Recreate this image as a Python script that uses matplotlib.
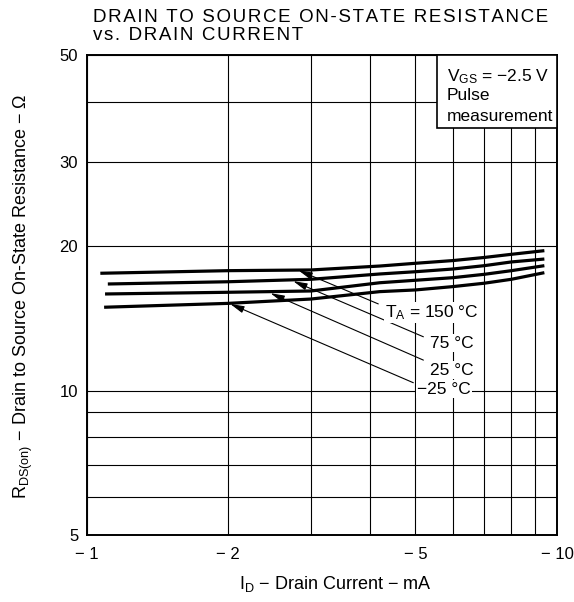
import numpy as np
import matplotlib
matplotlib.use("Agg")
import matplotlib.pyplot as plt
from matplotlib.ticker import FixedLocator, NullFormatter
from matplotlib.patches import Rectangle

plt.rcParams["font.family"] = ["Liberation Sans", "DejaVu Sans"]
plt.rcParams["mathtext.fontset"] = "custom"
plt.rcParams["mathtext.rm"] = "Liberation Sans"
plt.rcParams["mathtext.it"] = "Liberation Sans:italic"

# drain current (mA)
id_ma = [-2, -3, -4.2, -5, -6, -7, -8, -9.4]
start_ma = [-1.07, -1.11, -1.095, -1.09]   # where each curve begins

# on-state resistance (ohm) per ambient temperature
r_150 = [17.55, 17.77, 17.83, 18.17, 18.41, 18.65, 18.93, 19.22, 19.56]
r_75 = [16.67, 16.85, 17.05, 17.49, 17.68, 17.91, 18.20, 18.53, 18.79]
r_25 = [15.89, 16.02, 16.12, 16.77, 16.97, 17.18, 17.46, 17.77, 18.20]
r_m25 = [14.91, 15.19, 15.51, 16.07, 16.20, 16.46, 16.73, 17.05, 17.60]

curves = [r_150, r_75, r_25, r_m25]
temp_labels = [r"T$_\mathrm{A}$ = 150 °C", "75 °C", "25 °C", "−25 °C"]

x_ticks = [1, 2, 5, 10]
x_tick_labels = ["− 1", "− 2", "− 5", "− 10"]
y_ticks = [5, 10, 20, 30, 50]
y_tick_labels = ["5", "10", "20", "30", "50"]

# arrow tip on the curve, arrow tail, label anchor (data coords, |I_D|)
arrow_tips = [(2.82, 17.8), (2.75, 16.9), (2.46, 15.95), (2.02, 15.15)]
arrow_tails = [(4.17, 15.15), (5.2, 12.94), (5.2, 11.57), (4.95, 10.38)]
label_pos = [(4.31, 14.53), (5.37, 12.54), (5.37, 11.03), (5.04, 10.06)]


def spaced(s, gap="\u200a"):
    # wide letter spacing like the printed datasheet title
    return gap.join(s)


fig = plt.figure(figsize=(5.74, 6.02), dpi=100)
ax = fig.add_axes([0.1507, 0.1113, 0.8197, 0.7973])

ax.set_xscale("log")
ax.set_yscale("log")
ax.set_xlim(1, 10)
ax.set_ylim(5, 50)

ax.xaxis.set_major_locator(FixedLocator(x_ticks))
ax.xaxis.set_minor_locator(FixedLocator([3, 4, 6, 7, 8, 9]))
ax.yaxis.set_major_locator(FixedLocator(y_ticks))
ax.yaxis.set_minor_locator(FixedLocator([6, 7, 8, 9, 40]))
ax.set_xticklabels(x_tick_labels)
ax.set_yticklabels(y_tick_labels)
ax.xaxis.set_minor_formatter(NullFormatter())
ax.yaxis.set_minor_formatter(NullFormatter())
ax.tick_params(which="both", length=0, labelsize=12)
ax.tick_params(axis="x", pad=9)
ax.tick_params(axis="y", pad=6)

ax.grid(True, which="both", color="black", lw=0.8)
ax.set_axisbelow(True)
for s in ax.spines.values():
    s.set_linewidth(1.4)

for i, r in enumerate(curves):
    xs = np.abs([start_ma[i]] + id_ma)
    ax.plot(xs, r, color="black", lw=2.3, solid_capstyle="butt", zorder=3)

for tip, tail, pos, lab in zip(arrow_tips, arrow_tails, label_pos, temp_labels):
    ax.annotate("", xy=tip, xytext=tail,
                arrowprops=dict(arrowstyle="-|>,head_length=0.6,head_width=0.15",
                                color="black", lw=0.8, mutation_scale=14,
                                shrinkA=0, shrinkB=0), zorder=4)
    ax.text(pos[0], pos[1], lab, fontsize=12.5, ha="left", va="center",
            bbox=dict(fc="white", ec="none", pad=1), zorder=5)

# condition box, top right
ax.add_patch(Rectangle((0.745, 0.848), 0.255, 0.152, transform=ax.transAxes,
                       fc="white", ec="black", lw=1.2, zorder=6, clip_on=False))
ax.text(0.766, 0.955, r"V$_\mathrm{GS}$ = −2.5 V", transform=ax.transAxes,
        fontsize=12.5, va="center", zorder=7)
ax.text(0.766, 0.915, "Pulse", transform=ax.transAxes,
        fontsize=12.5, va="center", zorder=7)
ax.text(0.766, 0.872, "measurement", transform=ax.transAxes,
        fontsize=12.5, va="center", zorder=7)

fig.text(93 / 574, 1 - 17 / 602, spaced("DRAIN TO SOURCE ON-STATE RESISTANCE"),
         fontsize=13.5, ha="left", va="center")
fig.text(93 / 574, 1 - 36 / 602, spaced("vs. DRAIN CURRENT"),
         fontsize=13.5, ha="left", va="center")

fig.text(335 / 574, 1 - 584 / 602, r"I$_\mathrm{D}$ − Drain Current − mA",
         fontsize=13, ha="center", va="center")
fig.text(23 / 574, 1 - 296 / 602,
         r"R$_\mathrm{DS(on)}$ − Drain to Source On-State Resistance − Ω",
         fontsize=13, ha="center", va="center", rotation=90)

fig.savefig("out.png", dpi=100)
